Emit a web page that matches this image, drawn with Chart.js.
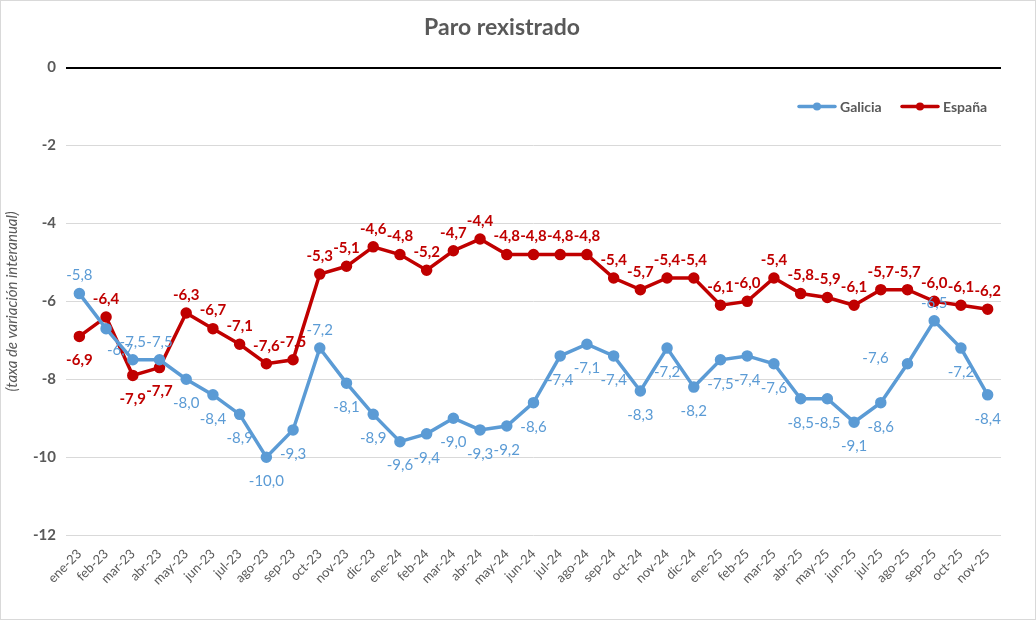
<!DOCTYPE html>
<html>
<head>
<meta charset="utf-8">
<script src="https://cdn.jsdelivr.net/npm/chart.js@4.4.1/dist/chart.umd.min.js"></script>
<style>
  html, body { margin: 0; padding: 0; background: #fff; }
  #wrap { width: 1034px; height: 618px; border: 1px solid #d9d9d9; position: relative; }
</style>
</head>
<body>
<div id="wrap"><canvas id="paroChart"></canvas></div>
<script>
// Paro rexistrado - taxa de variación interanual
var months = [
  'ene-23', 'feb-23', 'mar-23', 'abr-23', 'may-23', 'jun-23', 'jul-23', 'ago-23', 'sep-23', 'oct-23', 'nov-23', 'dic-23',
  'ene-24', 'feb-24', 'mar-24', 'abr-24', 'may-24', 'jun-24', 'jul-24', 'ago-24', 'sep-24', 'oct-24', 'nov-24', 'dic-24',
  'ene-25', 'feb-25', 'mar-25', 'abr-25', 'may-25', 'jun-25', 'jul-25', 'ago-25', 'sep-25', 'oct-25', 'nov-25'
];

var galicia = [
  -5.8, -6.7, -7.5, -7.5, -8.0, -8.4, -8.9, -10.0, -9.3, -7.2, -8.1, -8.9,
  -9.6, -9.4, -9.0, -9.3, -9.2, -8.6, -7.4, -7.1, -7.4, -8.3, -7.2, -8.2,
  -7.5, -7.4, -7.6, -8.5, -8.5, -9.1, -8.6, -7.6, -6.5, -7.2, -8.4
];

var espana = [
  -6.9, -6.4, -7.9, -7.7, -6.3, -6.7, -7.1, -7.6, -7.5, -5.3, -5.1, -4.6,
  -4.8, -5.2, -4.7, -4.4, -4.8, -4.8, -4.8, -4.8, -5.4, -5.7, -5.4, -5.4,
  -6.1, -6.0, -5.4, -5.8, -5.9, -6.1, -5.7, -5.7, -6.0, -6.1, -6.2
];

var yTicks = [0, -2, -4, -6, -8, -10, -12];

var galiciaColor = '#5b9bd5';
var espanaColor = '#c00000';
var textColor = '#595959';
var fontFamily = 'Lato, "Open Sans", sans-serif';

// label placement (Excel puts some labels elsewhere)
var labelPlacement = [
  { side: 'below', special: { 0: 'above', 1: 'belowright', 2: 'above', 3: 'above', 9: 'above', 31: 'left', 32: 'above' } },
  { side: 'above', special: { 0: 'below', 2: 'below', 3: 'below' } }
];

var pointLabels = {
  id: 'pointLabels',
  afterDatasetsDraw: function (chart) {
    var ctx = chart.ctx;
    ctx.save();
    ctx.textAlign = 'center';
    ctx.textBaseline = 'middle';
    chart.data.datasets.forEach(function (ds, di) {
      var meta = chart.getDatasetMeta(di);
      var place = labelPlacement[di];
      ctx.fillStyle = ds.borderColor;
      ctx.font = (di === 1 ? 'bold ' : '') + '15px ' + fontFamily;
      meta.data.forEach(function (pt, i) {
        var side = place.special[i] || place.side;
        var x = pt.x, y = pt.y;
        if (side === 'above') y -= 18;
        else if (side === 'below') y += 24;
        else if (side === 'belowright') { x += 14; y += 22; }
        else if (side === 'left') { x -= 32; y -= 6; }
        var txt = ds.data[i].toFixed(1).replace('.', ',');
        ctx.fillText(txt, x, y);
      });
    });
    ctx.restore();
  }
};

var innerLegend = {
  id: 'innerLegend',
  afterDraw: function (chart) {
    var ctx = chart.ctx;
    var area = chart.chartArea;
    var y = area.top + 39;
    var items = [
      { text: 'Galicia', color: galiciaColor, x: area.right - 202 },
      { text: 'España', color: espanaColor, x: area.right - 99 }
    ];
    ctx.save();
    ctx.font = 'bold 14px ' + fontFamily;
    ctx.textBaseline = 'middle';
    ctx.textAlign = 'left';
    items.forEach(function (it) {
      ctx.strokeStyle = it.color;
      ctx.lineWidth = 3.5;
      ctx.lineCap = 'round';
      ctx.beginPath();
      ctx.moveTo(it.x, y);
      ctx.lineTo(it.x + 36, y);
      ctx.stroke();
      ctx.fillStyle = it.color;
      ctx.beginPath();
      ctx.arc(it.x + 18, y, 4, 0, Math.PI * 2);
      ctx.fill();
      ctx.fillStyle = textColor;
      ctx.fillText(it.text, it.x + 41, y + 1);
    });
    ctx.restore();
  }
};

var ctx = document.getElementById('paroChart').getContext('2d');
var chart = new Chart(ctx, {
  type: 'line',
  data: {
    labels: months,
    datasets: [
      {
        label: 'Galicia',
        data: galicia,
        borderColor: galiciaColor,
        backgroundColor: galiciaColor,
        borderWidth: 3.5,
        pointRadius: 4,
        pointHoverRadius: 4,
        tension: 0
      },
      {
        label: 'España',
        data: espana,
        borderColor: espanaColor,
        backgroundColor: espanaColor,
        borderWidth: 3.5,
        pointRadius: 4,
        pointHoverRadius: 4,
        tension: 0
      }
    ]
  },
  options: {
    responsive: true,
    maintainAspectRatio: false,
    animation: false,
    layout: {
      padding: { left: 2, right: 34, top: 5, bottom: 28 }
    },
    plugins: {
      legend: { display: false },
      tooltip: { enabled: false },
      title: {
        display: true,
        text: 'Paro rexistrado',
        color: textColor,
        font: { family: fontFamily, size: 23, weight: 'bold' },
        padding: { top: 8, bottom: 26 }
      }
    },
    scales: {
      x: {
        offset: true,
        grid: { display: false },
        border: { display: false },
        ticks: {
          color: textColor,
          font: { family: fontFamily, size: 13 },
          minRotation: 45,
          maxRotation: 45,
          autoSkip: false
        }
      },
      y: {
        min: -12,
        max: 0,
        afterBuildTicks: function (axis) {
          axis.ticks = yTicks.map(function (v) { return { value: v }; });
        },
        border: { display: false },
        grid: {
          color: function (c) { return c.tick && c.tick.value === 0 ? '#000000' : '#d9d9d9'; },
          lineWidth: function (c) { return c.tick && c.tick.value === 0 ? 2 : 1; },
          drawTicks: false
        },
        ticks: {
          color: textColor,
          padding: 10,
          font: { family: fontFamily, size: 15, weight: 'bold' },
          callback: function (value) { return String(value); }
        },
        title: {
          display: true,
          text: '(taxa de variación interanual)',
          color: textColor,
          font: { family: fontFamily, size: 15, style: 'italic' },
          padding: { top: 0, bottom: 2 }
        }
      }
    }
  },
  plugins: [pointLabels, innerLegend]
});
</script>
</body>
</html>
